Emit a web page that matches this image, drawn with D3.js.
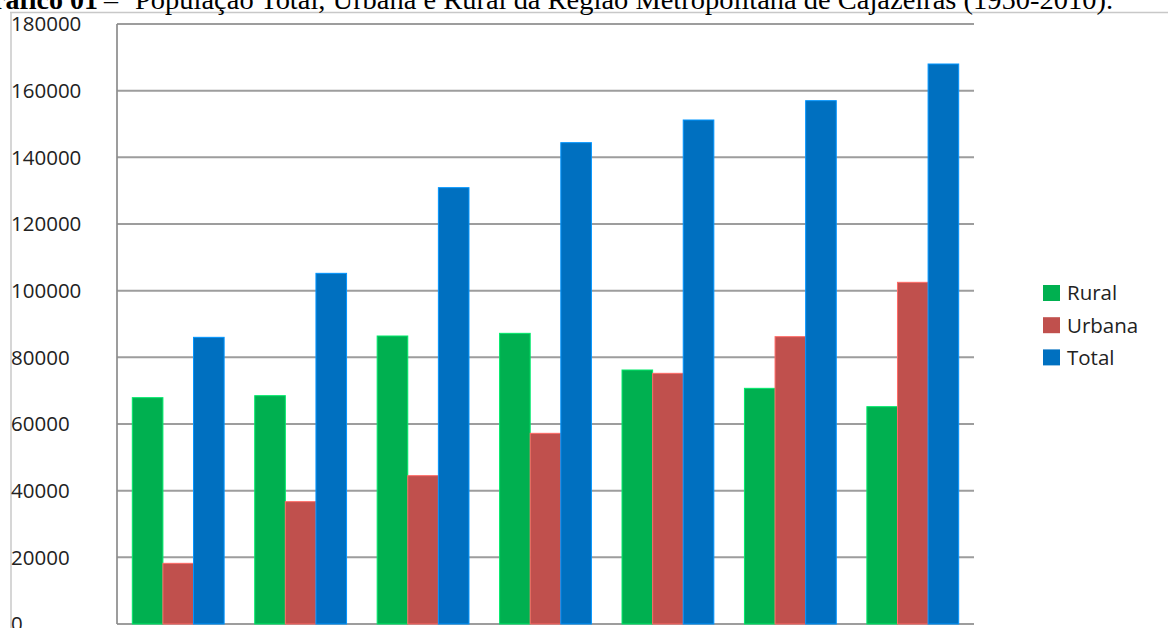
<!DOCTYPE html>
<html>
<head>
<meta charset="utf-8">
<script src="https://cdn.jsdelivr.net/npm/d3@7"></script>
<style>
  html, body { margin: 0; padding: 0; background: #fff; }
  svg { display: block; }
</style>
</head>
<body>
<svg id="chart" width="1168" height="628"></svg>
<script>
const categories = ["1950", "1960", "1970", "1980", "1991", "2000", "2010"];
const seriesNames = ["Rural", "Urbana", "Total"];
const rural  = [67900, 68500, 86400, 87200, 76200, 70700, 65200];
const urbana = [18200, 36700, 44500, 57200, 75200, 86200, 102500];
const total  = [86000, 105200, 130900, 144400, 151200, 157000, 168000];
const colors = ["#00B050", "#C0504D", "#0070C0"];
const yTicks = [0, 20000, 40000, 60000, 80000, 100000, 120000, 140000, 160000, 180000];
const titleBold = "Gráfico 01";
const titleDash = "–";
const titleText = "População Total, Urbana e Rural da Região Metropolitana de Cajazeiras (1950-2010).";

const series = [rural, urbana, total];
const svg = d3.select("#chart");

// page frame lines
svg.append("line").attr("x1", 10).attr("x2", 1168).attr("y1", 12.5).attr("y2", 12.5)
  .attr("stroke", "#c8c8c8").attr("stroke-width", 1.5);
svg.append("line").attr("x1", 11).attr("x2", 11).attr("y1", 12).attr("y2", 628)
  .attr("stroke", "#c8c8c8").attr("stroke-width", 1.5);

// title (partially cut off at top/left, as in the reference)
const tf = "Liberation Serif, Times New Roman, serif";
svg.append("text").attr("x", 98).attr("y", 9).attr("text-anchor", "end")
  .attr("font-family", tf).attr("font-size", 28).attr("font-weight", "bold").attr("fill", "#000")
  .text(titleBold);
svg.append("text").attr("x", 104).attr("y", 9)
  .attr("font-family", tf).attr("font-size", 28).attr("fill", "#000")
  .text(titleDash);
svg.append("text").attr("x", 135).attr("y", 9)
  .attr("font-family", tf).attr("font-size", 28).attr("fill", "#000")
  .attr("textLength", 978).attr("lengthAdjust", "spacingAndGlyphs")
  .text(titleText);

const margin = { left: 117, right: 974, top: 24, bottom: 624 };
const x0 = d3.scaleBand().domain(categories).range([margin.left, margin.right]).paddingInner(0.25).paddingOuter(0.125);
const x1 = d3.scaleBand().domain(seriesNames).range([0, x0.bandwidth()]).padding(0);
const y = d3.scaleLinear().domain([0, 180000]).range([margin.bottom, margin.top]);

// gridlines
svg.append("g").selectAll("line").data(yTicks).join("line")
  .attr("x1", margin.left).attr("x2", margin.right)
  .attr("y1", d => y(d)).attr("y2", d => y(d))
  .attr("stroke", "#8c8c8c").attr("stroke-width", 2).attr("opacity", 0.85);

// y axis line
svg.append("line").attr("x1", margin.left).attr("x2", margin.left)
  .attr("y1", margin.top).attr("y2", margin.bottom)
  .attr("stroke", "#8c8c8c").attr("stroke-width", 2).attr("opacity", 0.85);

// bars
const groups = svg.append("g").selectAll("g").data(categories).join("g")
  .attr("transform", d => `translate(${x0(d)},0)`);
groups.selectAll("rect").data((c, i) => seriesNames.map((s, j) => ({ s, v: series[j][i], j })))
  .join("rect")
  .attr("x", d => x1(d.s))
  .attr("width", x1.bandwidth())
  .attr("y", d => y(d.v))
  .attr("height", d => y(0) - y(d.v))
  .attr("fill", d => colors[d.j])
  .attr("stroke", d => d3.color(colors[d.j]).brighter(0.8))
  .attr("stroke-width", 1);

// y tick labels (left aligned)
svg.append("g").selectAll("text").data(yTicks).join("text")
  .attr("x", 11).attr("y", d => y(d)).attr("dy", "0.36em")
  .attr("font-family", "Open Sans, sans-serif").attr("font-size", 20.5).attr("fill", "#222")
  .text(d => d);

// legend
const legend = svg.append("g").selectAll("g").data(seriesNames).join("g")
  .attr("transform", (d, i) => `translate(1043, ${293 + i * 32.2})`);
legend.append("rect").attr("x", 0).attr("y", -8).attr("width", 17).attr("height", 16)
  .attr("fill", (d, i) => colors[i]);
legend.append("text").attr("x", 24).attr("y", 0).attr("dy", "0.36em")
  .attr("font-family", "Open Sans, sans-serif").attr("font-size", 20.5).attr("fill", "#222")
  .text(d => d);
</script>
</body>
</html>
